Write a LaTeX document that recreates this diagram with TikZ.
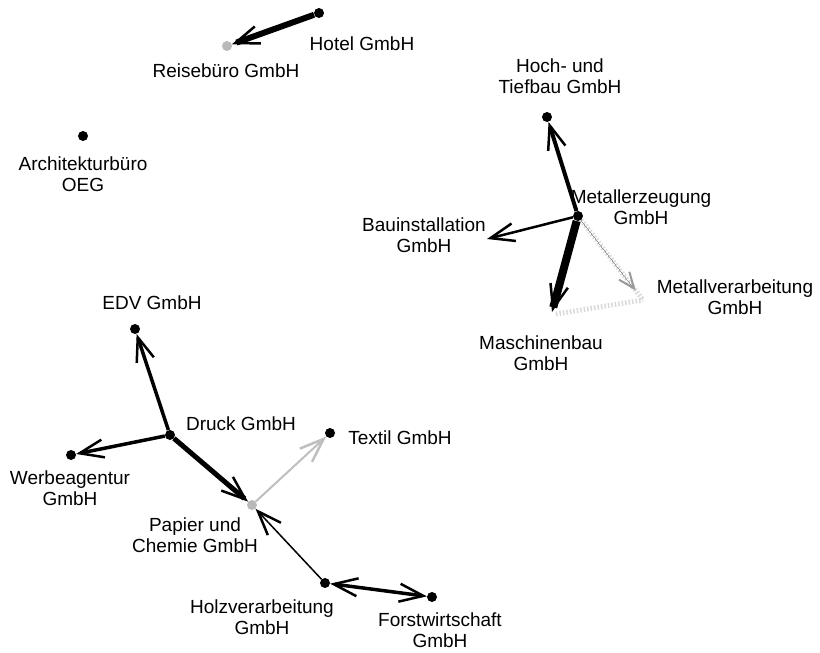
\documentclass[tikz,border=0pt]{standalone}
\usepackage{fontspec}
\setmainfont{Liberation Sans}
\usetikzlibrary{
        arrows.meta,
        positioning
    }
\tikzset{barb/.tip={Straight Barb[length=24pt,width=18pt,line width=2.5pt]}}
\tikzset{tip/.style={-barb}}
\tikzset{bothtips/.style={barb-barb}}
\tikzset{firm/.style={circle,fill=black,inner sep=0pt,minimum size=10pt}}
\tikzset{greyfirm/.style={firm,fill=gray!55}}
\tikzset{firmname/.style={font=\fontsize{19}{21}\selectfont,align=center,inner sep=0pt}}
\tikzset{faint/.style={draw=gray!30,dash pattern=on 1.5pt off 2pt,line width=5pt}}

\begin{document}
\begin{tikzpicture}[x=1pt,y=-1pt]
                    \useasboundingbox (0,0) rectangle (820,653);
                    % companies
                        \node[firm]     (hotel)  at (319,13)  {};
                        \node[greyfirm] (reise)  at (227,46)  {};
                        \node[firm]     (archi)  at (83,136)  {};
                        \node[firm]     (hoch)   at (547,117) {};
                        \node[firm]     (merz)   at (578,216) {};
                        \coordinate     (bau)    at (487,239);
                        \coordinate     (masch)  at (552,312);
                        \coordinate     (mverarb) at (643,300);
                        \node[firm]     (edv)    at (135,329) {};
                        \node[firm]     (druck)  at (170,435) {};
                        \node[firm]     (werbe)  at (71,455)  {};
                        \node[firm]     (textil) at (330,433) {};
                        \node[greyfirm] (papier) at (252,505) {};
                        \node[firm]     (holz)   at (325,583) {};
                        \node[firm]     (forst)  at (432,597) {};
                    % names
                        \node[firmname] (n-hotel)  at (362,44)  {Hotel GmbH};
                        \node[firmname] (n-reise)  at (226,71)  {Reisebüro GmbH};
                        \node[firmname] (n-archi)  at (83,174)  {Architekturbüro\\OEG};
                        \node[firmname] (n-hoch)   at (560,76)  {Hoch- und\\Tiefbau GmbH};
                        \node[firmname] (n-merz)   at (641,207) {Metallerzeugung\\GmbH};
                        \node[firmname] (n-bau)    at (424,235) {Bauinstallation\\GmbH};
                        \node[firmname] (n-mverarb) at (735,297) {Metallverarbeitung\\GmbH};
                        \node[firmname] (n-masch)  at (541,353) {Maschinenbau\\GmbH};
                        \node[firmname] (n-edv)    at (152,303) {EDV GmbH};
                        \node[firmname] (n-druck)  at (241,424) {Druck GmbH};
                        \node[firmname] (n-textil) at (400,438) {Textil GmbH};
                        \node[firmname] (n-werbe)  at (70,488)  {Werbeagentur\\GmbH};
                        \node[firmname] (n-papier) at (195,535) {Papier und\\Chemie GmbH};
                        \node[firmname] (n-holz)   at (262,617) {Holzverarbeitung\\GmbH};
                        \node[firmname] (n-forst)  at (440,630) {Forstwirtschaft\\GmbH};
                    % relations
                    \draw[faint] ([shift={(4,2)}]masch) -- (mverarb);
                    \draw[faint] ([shift={(3,6)}]merz) -- (mverarb);
                    \draw[-{Straight Barb[length=16pt,width=13pt,line width=2pt]},draw=gray!80,line width=0pt,shorten >=12pt]
                            ([shift={(3,6)}]merz) -- (mverarb);
                    \draw[tip,draw=gray!50,line width=2pt] (papier) -- (textil);
                    \draw[tip,line width=6pt]   (hotel) -- (reise);
                    \draw[tip,line width=4pt]   (merz) -- (hoch);
                    \draw[tip,line width=2.5pt] (merz) -- (bau);
                    \draw[tip,line width=8pt]   (merz) -- (masch);
                    \draw[tip,line width=3.5pt] (druck) -- (edv);
                    \draw[tip,line width=3.5pt] (druck) -- (werbe);
                    \draw[tip,line width=5pt]   (druck) -- (papier);
                    \draw[tip,line width=1.5pt] (holz) -- (papier);
                    \draw[bothtips,line width=3.5pt] (holz) -- (forst);
            \end{tikzpicture}
\end{document}
